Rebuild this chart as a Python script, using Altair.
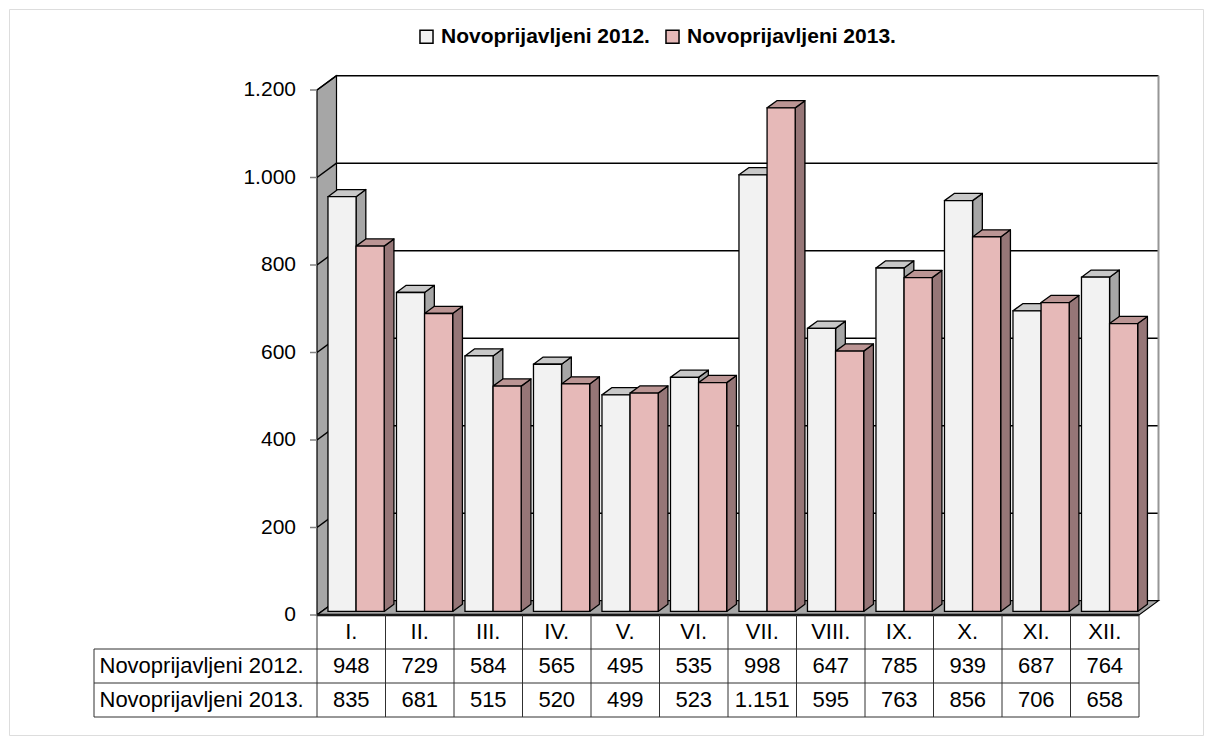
import altair as alt
import pandas as pd

# ---------------- data ----------------
months = ["I.", "II.", "III.", "IV.", "V.", "VI.", "VII.", "VIII.", "IX.", "X.", "XI.", "XII."]
series_names = ["Novoprijavljeni 2012.", "Novoprijavljeni 2013."]
values_2012 = [948, 729, 584, 565, 495, 535, 998, 647, 785, 939, 687, 764]
values_2013 = [835, 681, 515, 520, 499, 523, 1151, 595, 763, 856, 706, 658]
y_ticks = [0, 200, 400, 600, 800, 1000, 1200]
y_tick_labels = ["0", "200", "400", "600", "800", "1.000", "1.200"]

# ---------------- style / layout ----------------
front_colors = ["#f2f2f2", "#e6b9b8"]
side_colors = ["#a6a6a6", "#967677"]
top_colors = ["#c8c8c8", "#bb9594"]
FONT = "Liberation Sans"
FS_AXIS = 21
FS_TABLE = 22


def fmt(v):
    return f"{v:,}".replace(",", ".")


W, H = 1194, 726
CW = 68.5            # px per category
X0 = 308.0           # px of the category axis origin
VU = 525 / 1200      # px per value unit
Y0 = 606.0           # px of value 0
x_dom = [-X0 / CW, (W - X0) / CW]
y_dom = [-(H - Y0) / VU, Y0 / VU]
DX = 19.5 / CW       # depth in x units
DY = 14.3 / VU       # depth in value units
F, B = 0.25, 0.75    # bar depth range (fractions)
GAP = 6.1 / CW
BW = 28.1 / CW
ROW = 34 / VU
LBL_LEFT = -223 / CW
TICK = 7 / CW
LBL_X = -21 / CW
N = len(months)
TOP = y_ticks[-1]

xs = alt.Scale(domain=x_dom, nice=False, zero=False)
ys = alt.Scale(domain=y_dom, nice=False, zero=False)

# ---------------- derived tables ----------------
fronts, sides, tops = [], [], []
for i in range(N):
    for k, (name, vals) in enumerate(zip(series_names, [values_2012, values_2013])):
        v = vals[i]
        L = i + GAP + k * BW
        R = L + BW
        bid = f"{i:02d}_{k}"
        fronts.append(dict(series=name, x=L + F * DX, x2=R + F * DX, y=F * DY, y2=v + F * DY))
        sides.append(dict(id=bid, series=name, x=R + F * DX, y=v + F * DY, y2=F * DY))
        sides.append(dict(id=bid, series=name, x=R + B * DX, y=v + B * DY, y2=B * DY))
        tops.append(dict(id=bid, series=name, y=v + F * DY, x=L + F * DX, x2=R + F * DX))
        tops.append(dict(id=bid, series=name, y=v + B * DY, x=L + B * DX, x2=R + B * DX))

fronts_df = pd.DataFrame(fronts)
sides_df = pd.DataFrame(sides)
tops_df = pd.DataFrame(tops)

wall_df = pd.DataFrame([dict(x=0, y=TOP, y2=0), dict(x=DX, y=TOP + DY, y2=DY)])
floor_df = pd.DataFrame([dict(y=0, x=0, x2=N), dict(y=DY, x=DX, x2=N + DX)])
grid_df = pd.DataFrame([dict(x=DX, x2=N + DX, y=v + DY) for v in y_ticks[1:]])
diag_df = pd.DataFrame([dict(x=0, x2=DX, y=v, y2=v + DY) for v in y_ticks])
redge_df = pd.DataFrame([dict(x=N + DX, y=DY, y2=TOP + DY)])
ytick_df = pd.DataFrame([dict(x=-TICK, x2=0, y=v) for v in y_ticks])
ylab_df = pd.DataFrame([dict(x=LBL_X, y=v, t=t) for v, t in zip(y_ticks, y_tick_labels)])
ffront_df = pd.DataFrame([dict(x=0, x2=N, y=0)])

hlines = [dict(x=0, x2=N, y=0)] + [dict(x=LBL_LEFT, x2=N, y=-r * ROW) for r in (1, 2, 3)]
vlines = [dict(x=i, y=0, y2=-3 * ROW) for i in range(N + 1)] + [dict(x=LBL_LEFT, y=-ROW, y2=-3 * ROW)]
hl_df = pd.DataFrame(hlines)
vl_df = pd.DataFrame(vlines)

cells = []
for i, m in enumerate(months):
    cells.append(dict(x=i + 0.5, y=-0.5 * ROW, t=m))
    cells.append(dict(x=i + 0.5, y=-1.5 * ROW, t=fmt(values_2012[i])))
    cells.append(dict(x=i + 0.5, y=-2.5 * ROW, t=fmt(values_2013[i])))
cells_df = pd.DataFrame(cells)
rowlab_df = pd.DataFrame([dict(x=LBL_LEFT + 5.5 / CW, y=-(1.5 + r) * ROW, t=n)
                          for r, n in enumerate(series_names)])


def qx(f="x"):
    return alt.X(f"{f}:Q", scale=xs, axis=None, stack=None)


def qy(f="y"):
    return alt.Y(f"{f}:Q", scale=ys, axis=None, stack=None)


# ---------------- layers ----------------
grid = alt.Chart(grid_df).mark_rule(color="black", strokeWidth=1.5).encode(x=qx(), x2="x2:Q", y=qy())
redge = alt.Chart(redge_df).mark_rule(color="#969696", strokeWidth=2).encode(x=qx(), y=qy(), y2="y2:Q")
wall = alt.Chart(wall_df).mark_area(orient="vertical", fill="#a6a6a6", stroke="black", strokeWidth=1.2).encode(
    x=qx(), y=qy(), y2="y2:Q")
diag = alt.Chart(diag_df).mark_rule(color="black", strokeWidth=1.5).encode(x=qx(), x2="x2:Q", y=qy(), y2="y2:Q")
floor = alt.Chart(floor_df).mark_area(orient="horizontal", fill="#a6a6a6", stroke="black", strokeWidth=1.2).encode(
    y=qy(), x=qx(), x2="x2:Q")

side = alt.Chart(sides_df).mark_area(orient="vertical", stroke="black", strokeWidth=1.3, strokeJoin="round").encode(
    x=qx(), y=qy(), y2="y2:Q", detail="id:N",
    fill=alt.Fill("series:N", scale=alt.Scale(domain=series_names, range=side_colors), legend=None))
top = alt.Chart(tops_df).mark_area(orient="horizontal", stroke="black", strokeWidth=1.3, strokeJoin="round").encode(
    y=qy(), x=qx(), x2="x2:Q", detail="id:N",
    fill=alt.Fill("series:N", scale=alt.Scale(domain=series_names, range=top_colors), legend=None))
front = alt.Chart(fronts_df).mark_rect(stroke="black", strokeWidth=1.3).encode(
    x=qx(), x2="x2:Q", y=qy(), y2="y2:Q",
    fill=alt.Fill("series:N", scale=alt.Scale(domain=series_names, range=front_colors),
                  legend=alt.Legend(title=None, orient="none", legendX=407, legendY=17,
                                    direction="horizontal", symbolType="square", symbolSize=170,
                                    symbolStrokeColor="black", symbolStrokeWidth=1.5,
                                    labelFont=FONT, labelFontSize=21, labelFontWeight="bold",
                                    labelColor="black", labelOffset=4, columnPadding=12,
                                    labelLimit=0)))
ffront = alt.Chart(ffront_df).mark_rule(color="black", strokeWidth=2.5).encode(x=qx(), x2="x2:Q", y=qy())

hl = alt.Chart(hl_df).mark_rule(color="#303030", strokeWidth=1).encode(x=qx(), x2="x2:Q", y=qy())
vl = alt.Chart(vl_df).mark_rule(color="#303030", strokeWidth=1).encode(x=qx(), y=qy(), y2="y2:Q")
cell_txt = alt.Chart(cells_df).mark_text(font=FONT, fontSize=FS_TABLE, color="black", align="center",
                                         baseline="middle").encode(x=qx(), y=qy(), text="t:N")
row_txt = alt.Chart(rowlab_df).mark_text(font=FONT, fontSize=FS_TABLE, color="black", align="left",
                                         baseline="middle").encode(x=qx(), y=qy(), text="t:N")
ytk = alt.Chart(ytick_df).mark_rule(color="#808080", strokeWidth=1.5).encode(x=qx(), x2="x2:Q", y=qy())
ylab = alt.Chart(ylab_df).mark_text(font=FONT, fontSize=FS_AXIS, color="black", align="right",
                                    baseline="middle").encode(x=qx(), y=qy(), text="t:N")

chart = alt.layer(
    grid, redge, wall, diag, floor, side, top, front, ffront, hl, vl, cell_txt, row_txt, ytk, ylab
).resolve_scale(fill="independent").properties(
    width=W, height=H, padding=1, autosize=alt.AutoSizeParams(type="none")
).configure_view(stroke="#7a7a7a", strokeWidth=1).configure(background="white")

chart.save("out.html", embed_options={"renderer": "svg", "actions": False})
